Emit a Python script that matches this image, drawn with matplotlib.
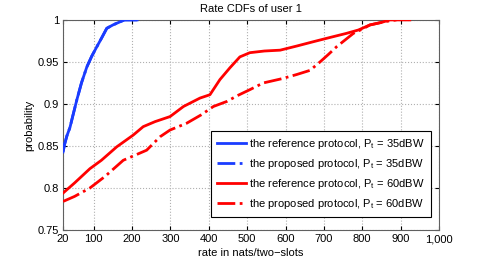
import matplotlib
matplotlib.use('Agg')
import matplotlib.pyplot as plt

plt.rcParams['font.family'] = ['Liberation Sans', 'DejaVu Sans']
plt.rcParams['mathtext.fontset'] = 'custom'
plt.rcParams['mathtext.rm'] = 'Liberation Sans'

# rate CDFs
ref35_x = [20, 24, 30, 38, 45, 56, 68, 82, 95, 108, 120, 134, 150, 165, 180, 213]
ref35_y = [0.843, 0.852, 0.862, 0.872, 0.885, 0.905, 0.925, 0.944, 0.957, 0.968,
           0.978, 0.990, 0.994, 0.997, 1.0, 1.0]
prop35_x = ref35_x
prop35_y = ref35_y

ref60_x = [20, 50, 90, 120, 160, 203, 229, 260, 299, 334, 377, 403, 429, 455, 481, 507,
           545, 586, 630, 672, 715, 759, 790, 820, 850, 872, 924]
ref60_y = [0.794, 0.806, 0.823, 0.833, 0.849, 0.863, 0.873, 0.879, 0.885, 0.897, 0.907,
           0.911, 0.929, 0.943, 0.956, 0.961, 0.963, 0.964, 0.969, 0.974, 0.979, 0.984,
           0.988, 0.994, 0.997, 1.0, 1.0]
prop60_x = [20, 50, 90, 130, 177, 238, 273, 299, 342, 380, 412, 447, 475, 507, 542,
            590, 629, 664, 690, 712, 733, 755, 777, 800, 820, 860, 889]
prop60_y = [0.784, 0.790, 0.800, 0.814, 0.833, 0.845, 0.861, 0.869, 0.877, 0.887, 0.897,
            0.903, 0.910, 0.917, 0.925, 0.930, 0.935, 0.940, 0.950, 0.959, 0.968, 0.976,
            0.984, 0.989, 0.994, 0.998, 1.0]

xticks = [20, 100, 200, 300, 400, 500, 600, 700, 800, 900, 1000]
xticklabels = ['20', '100', '200', '300', '400', '500', '600', '700', '800', '900', '1,000']
yticks = [0.75, 0.8, 0.85, 0.9, 0.95, 1]
yticklabels = ['0.75', '0.8', '0.85', '0.9', '0.95', '1']

fig = plt.figure(figsize=(4.85, 2.62), dpi=100)
ax = fig.add_axes([0.130, 0.122, 0.775, 0.802])

ax.plot(prop35_x, prop35_y, color='#1a3cff', lw=2, ls='-.',
        label=r'the proposed protocol, P$_\mathrm{t}$ = 35dBW', zorder=3)
ax.plot(ref35_x, ref35_y, color='#1a3cff', lw=2, ls='-',
        label=r'the reference protocol, P$_\mathrm{t}$ = 35dBW', zorder=4)
ax.plot(ref60_x, ref60_y, color='#ff0000', lw=2, ls='-',
        label=r'the reference protocol, P$_\mathrm{t}$ = 60dBW', zorder=3)
ax.plot(prop60_x, prop60_y, color='#ff0000', lw=2, ls='-.',
        label=r'the proposed protocol, P$_\mathrm{t}$ = 60dBW', zorder=3)

ax.set_xlim(20, 1000)
ax.set_ylim(0.75, 1)
ax.set_xticks(xticks)
ax.set_xticklabels(xticklabels)
ax.set_yticks(yticks)
ax.set_yticklabels(yticklabels)
ax.tick_params(direction='in', top=True, right=True, labelsize=8, length=3, pad=3)
ax.grid(True, ls=':', color='#b0b0b0', lw=0.8)
for s in ax.spines.values():
    s.set_color('#606060')

ax.set_title('Rate CDFs of user 1', fontsize=8, pad=6)
ax.set_xlabel('rate in nats/two\u2212slots', fontsize=8, labelpad=3)
ax.set_ylabel('probability', fontsize=8, labelpad=2)

h, l = ax.get_legend_handles_labels()
order = [1, 0, 2, 3]
leg = ax.legend([h[i] for i in order], [l[i] for i in order], loc='lower right',
                bbox_to_anchor=(0.985, 0.05), fontsize=8, fancybox=False,
                edgecolor='black', framealpha=1, handlelength=2.6,
                labelspacing=0.55, borderpad=0.55, handletextpad=0.35,
                borderaxespad=0.2)
leg.get_frame().set_linewidth(0.8)

fig.savefig('out.png', dpi=100)
